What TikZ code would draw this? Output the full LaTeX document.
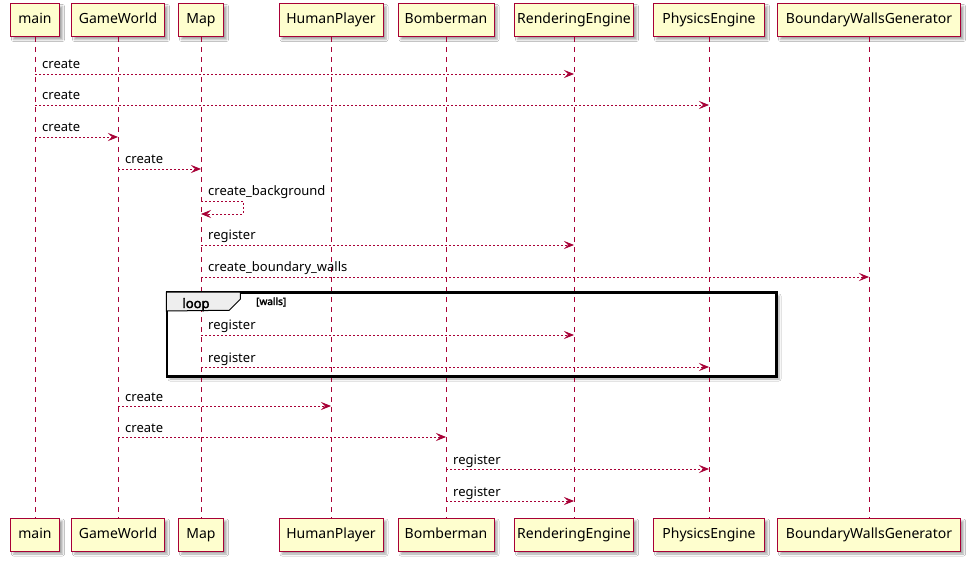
\documentclass[tikz,border=0pt]{standalone}
\usepackage{fontspec}
\setmainfont{Noto Sans}[BoldFont={Noto Sans}, BoldFeatures={FakeBold=2.5}]
\usetikzlibrary{arrows.meta,calc,shadows.blur}
\definecolor{umlred}{HTML}{A80036}
\definecolor{umlcream}{HTML}{FEFECE}
\definecolor{umltab}{HTML}{EEEEEE}
\tikzset{
  part/.style={draw=umlred, fill=umlcream, line width=1pt, minimum height=33pt, inner sep=0pt,
    text height=10pt, text depth=3pt,
    font=\fontsize{14}{16}\selectfont, text=black,
    blur shadow={shadow xshift=3pt, shadow yshift=-3pt, shadow blur radius=2pt, shadow opacity=35}},
  life/.style={umlred, line width=0.8pt, dash pattern=on 5pt off 5pt},
  msg/.style={umlred, line width=0.8pt, dash pattern=on 2pt off 2pt,
    -{Stealth[length=10pt, width=8pt, inset=4pt]}},
  msglabel/.style={anchor=base west, inner sep=0pt, font=\fontsize{13}{15}\selectfont, text=black},
  loopframe/.style={draw=black, fill=white, line width=1.5pt, inner sep=0pt,
    blur shadow={shadow xshift=3pt, shadow yshift=-3pt, shadow blur radius=2pt, shadow opacity=35}},
}

\begin{document}
\begin{tikzpicture}[x=1pt,y=-1pt]
  \useasboundingbox[fill=white] (0,0) rectangle (969,561);

  % Loop frame (under the lifelines)
  \node[loopframe, minimum width=609pt, minimum height=83pt] (loopbox) at (471.5,334.5) {};

  % Participants, top and bottom, with lifelines
  \foreach \id/\name/\x/\w in {main/main/35/49, world/GameWorld/118/93, map/Map/201/45,
      human/HumanPlayer/331/104, bomb/Bomberman/446/96, rend/RenderingEngine/574/119,
      phys/PhysicsEngine/709/111, walls/BoundaryWallsGenerator/869/183} {
    \node[part, minimum width=\w pt] (\id-t) at (\x,20) {\name};
    \node[part, minimum width=\w pt] (\id-b) at (\x,534.5) {\name};
    \draw[life] (\id-t.south) -- (\id-b.north);
  }

  % Messages
  \foreach \f/\t/\y/\txt in {main/rend/74/create, main/phys/105/create, main/world/137/create,
      world/map/169/create, map/rend/245/register, map/walls/277/create\_boundary\_walls,
      map/rend/335/register, map/phys/367/register, world/human/406/create,
      world/bomb/437/create, bomb/phys/469/register, bomb/rend/501/register} {
    \draw[msg] (\f-t |- 0,\y) -- (\t-t |- 0,\y);
    \node[msglabel] at ($(\f-t |- 0,\y)+(7,-5)$) {\txt};
  }

  % Self message
  \draw[msg] (map-t |- 0,201) -- ++(42,0) -- ++(0,13) -- (map-t |- 0,214);
  \node[msglabel] (bglabel) at ($(map-t |- 0,201)+(7,-5)$) {create\_background};

  % Loop tab and border
  \draw[black, line width=1.5pt] (loopbox.north west) rectangle (loopbox.south east);
  \filldraw[fill=umltab, draw=black, line width=1pt] (loopbox.north west) -- ++(74,0) -- ++(0,7)
    -- ++(-11,11) -- (loopbox.north west |- 0,311) -- cycle;
  \node[anchor=base, inner sep=0pt, font=\bfseries\fontsize{13}{15}\selectfont] (looplabel) at (196,308) {loop};
  \node[anchor=base west, inner sep=0pt, font=\bfseries\fontsize{10}{12}\selectfont] (loopguard) at (256,305) {[walls]};
\end{tikzpicture}
\end{document}
